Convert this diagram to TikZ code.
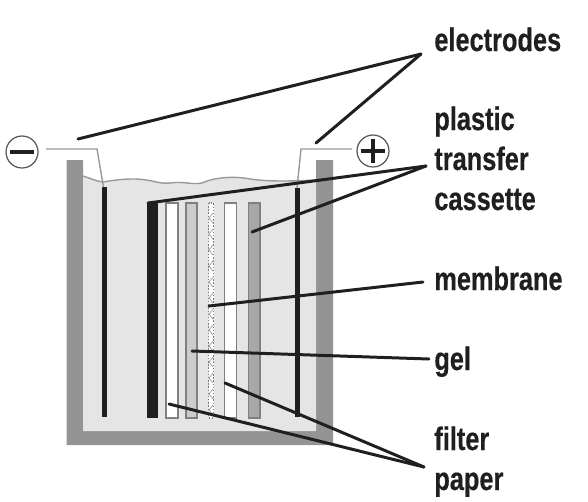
\documentclass[tikz,border=0pt]{standalone}
\usepackage{fontspec}
\setmainfont{Liberation Sans}
\newfontfamily\labelfont[FakeStretch=0.78,FakeBold=0.4]{Liberation Sans Bold}
\definecolor{wallgrey}{gray}{0.58}
\definecolor{bathgrey}{gray}{0.90}
\definecolor{stripgrey}{gray}{0.80}
\definecolor{paddark}{gray}{0.66}
\definecolor{inkblack}{gray}{0.12}
\begin{document}
\begin{tikzpicture}[x=0.02cm,y=-0.02cm,
  strip/.style={draw=gray, line width=0.8pt},
  leader/.style={draw=inkblack, line width=1.7pt, line cap=round},
  wire/.style={draw=gray!80, line width=0.8pt},
  terminal/.style={circle, draw=black!65, line width=0.7pt, fill=white, minimum size=0.64cm, inner sep=0pt},
  tag/.style={font=\labelfont\fontsize{18.5}{18.5}\selectfont, text=inkblack, inner sep=0pt, anchor=base west}
]
\useasboundingbox (0,0) rectangle (588,501);
% tank
\fill[wallgrey] (66.7,160) -- (83,160) -- (83,431) -- (316,431) -- (316,160) -- (333,160) -- (333,445) -- (66.7,445) -- cycle;
% buffer
\fill[bathgrey] (83,176) .. controls (90,178) and (95,181) .. (103,182)
  .. controls (120,179) and (135,178) .. (146,180)
  .. controls (155,181) and (160,184) .. (170,183)
  .. controls (185,181) and (190,185) .. (202,183)
  .. controls (215,177) and (235,176) .. (250,179)
  .. controls (270,182) and (295,181) .. (316,180)
  -- (316,431) -- (83,431) -- cycle;
\draw[wire] (83,176) .. controls (90,178) and (95,181) .. (103,182)
  .. controls (120,179) and (135,178) .. (146,180)
  .. controls (155,181) and (160,184) .. (170,183)
  .. controls (185,181) and (190,185) .. (202,183)
  .. controls (215,177) and (235,176) .. (250,179)
  .. controls (270,182) and (295,181) .. (316,180);
% electrodes and cassette
\fill[inkblack] (102,187) rectangle (106.5,417);
\fill[inkblack] (295,188) rectangle (300,417);
\fill[inkblack] (146.5,203) rectangle (158,418);
\filldraw[strip, fill=white] (166,203) rectangle (178,418);
\filldraw[strip, fill=stripgrey] (186,203) rectangle (197,418);
\filldraw[strip, fill=white, densely dotted] (208.7,203) rectangle (213.7,418);
\foreach \y in {218,234,250,266,282,298,314,330,346,362,378,394,410}
  \draw[gray!80, line width=0.4pt] (213,\y-5) -- (209,\y) -- (213,\y+5);
\filldraw[strip, fill=white] (224.7,203) rectangle (236.7,418);
\filldraw[strip, fill=paddark] (248.3,203) rectangle (260,418);

\node[terminal] (minus) at (22,152) {};
\node[terminal] (plus) at (373,151) {};
\draw[inkblack, line width=2.8pt] (10,152) -- (34,152);
\draw[inkblack, line width=2.8pt] (361,151) -- (385,151) (373,139) -- (373,163);

\node[tag] (electrodes) at (434,51) {electrodes};
\node[tag] (plastic) at (434,130) {plastic};
\node[tag] (transfer) at (434,170) {transfer};
\node[tag] (cassette) at (434,210) {cassette};
\node[tag] (membrane) at (434,290) {membrane};
\node[tag] (gel) at (434,370) {gel};
\node[tag] (filter) at (434,450) {filter};
\node[tag] (paper) at (434,490) {paper};

\coordinate (elecnode) at (421,54);
\coordinate (castnode) at (426,166);
\coordinate (memnode) at (423,282);
\coordinate (gelnode) at (429,359);
\coordinate (filtnode) at (424,467);
\coordinate (neg) at (103.5,187);
\coordinate (pos) at (297,188);
\coordinate (negbend) at (97,149);
\coordinate (posbend) at (301,149);
\coordinate (negstart) at (46,149);
\coordinate (posstart) at (352,149);

\draw[wire] (negstart) -- (negbend) -- (neg);
\draw[wire] (posstart) -- (posbend) -- (pos);

\draw[leader] (elecnode) -- (78,139);
\draw[leader] (elecnode) -- (316,143);
\draw[leader] (castnode) -- (148,203);
\draw[leader] (castnode) -- (252,232);
\draw[leader] (memnode) -- (209,306);
\draw[leader] (gelnode) -- (192,351);
\draw[leader] (filtnode) -- (169,404);
\draw[leader] (filtnode) -- (225,383);
\end{tikzpicture}
\end{document}
